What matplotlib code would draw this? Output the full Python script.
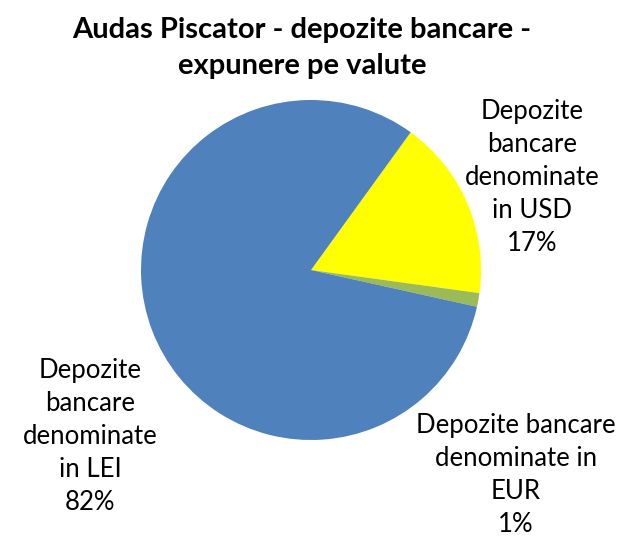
import matplotlib
matplotlib.use("Agg")
import matplotlib.pyplot as plt

categories = ["Depozite\nbancare\ndenominate\nin USD",
              "Depozite bancare\ndenominate in\nEUR",
              "Depozite\nbancare\ndenominate\nin LEI"]
values = [17.2, 1.3, 81.5]
colors = ["#FFFF00", "#9BBB59", "#4F81BD"]
label_pos = [(1.30, 0.547), (1.206, -1.205), (-1.30, -0.98)]

W, H = 617, 540
fig = plt.figure(figsize=(W / 100, H / 100), dpi=100)
ax = fig.add_axes([0, 0, 1, 1])
cx, cy, r = 311, 270, 170
ax.pie(values, colors=colors, startangle=54.1, counterclock=False,
       radius=1, center=(0, 0), wedgeprops=dict(linewidth=0))
ax.set_aspect("auto")
ax.set_xlim(-cx / r, (W - cx) / r)
ax.set_ylim(-(H - cy) / r, cy / r)
ax.axis("off")

font = "Lato"
total = sum(values)
for cat, v, (x, y) in zip(categories, values, label_pos):
    pct = f"{round(100 * v / total):.0f}%"
    ax.text(x, y, cat + "\n" + pct, ha="center", va="center",
            fontsize=18.5, family=font, linespacing=1.4, color="black")

fig.text(302 / W, 1 - 48 / H, "Audas Piscator - depozite bancare -\nexpunere pe valute",
         ha="center", va="center", fontsize=21, fontweight="bold",
         family=font, linespacing=1.45)

fig.savefig("out.png", dpi=100)
